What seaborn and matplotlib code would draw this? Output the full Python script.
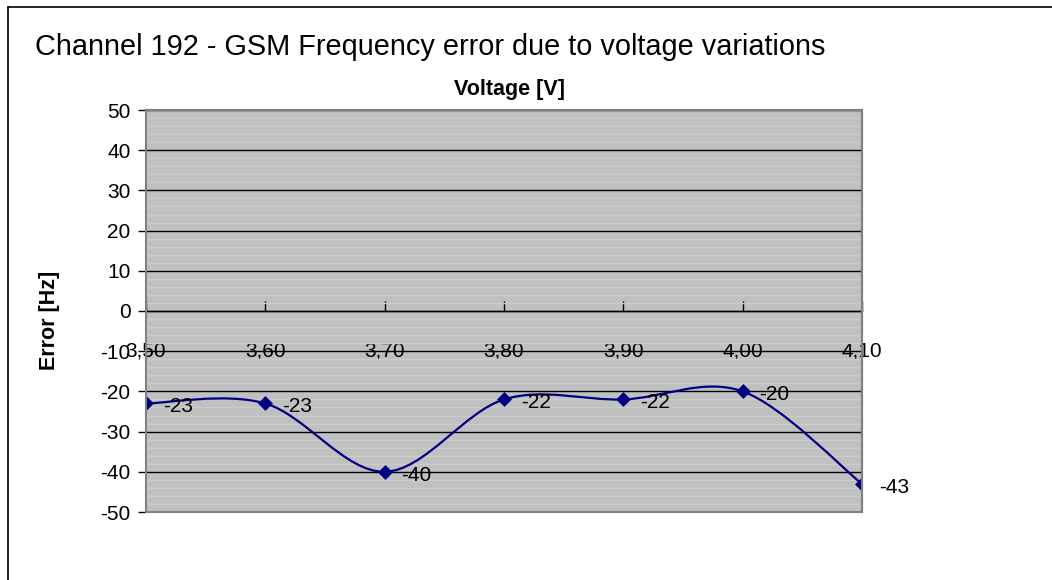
import matplotlib
matplotlib.use("Agg")
import matplotlib.pyplot as plt
import seaborn as sns
import numpy as np
import pandas as pd
from matplotlib.path import Path
from matplotlib.patches import PathPatch, Rectangle
from matplotlib.lines import Line2D
from matplotlib.ticker import MultipleLocator

# ---- data ----
voltage = [3.50, 3.60, 3.70, 3.80, 3.90, 4.00, 4.10]
error_hz = [-23, -23, -40, -22, -22, -20, -43]
x_tick_labels = ["3,50", "3,60", "3,70", "3,80", "3,90", "4,00", "4,10"]
y_ticks = [-50, -40, -30, -20, -10, 0, 10, 20, 30, 40, 50]

title = "Channel 192 - GSM Frequency error due to voltage variations"
x_label = "Voltage [V]"
y_label = "Error [Hz]"

df = pd.DataFrame({"Voltage": voltage, "Error": error_hz})

sns.set_theme(style="white")
plt.rcParams["font.family"] = ["Liberation Sans", "DejaVu Sans"]
plt.rcParams["text.color"] = "black"
plt.rcParams["axes.labelcolor"] = "black"
plt.rcParams["xtick.color"] = "black"
plt.rcParams["ytick.color"] = "black"

fig = plt.figure(figsize=(10.52, 5.80), dpi=100)
fig.patch.set_facecolor("white")
ax = fig.add_axes([146 / 1052, 1 - 512 / 580, (862 - 146) / 1052, (512 - 110) / 580])
ax.set_facecolor("#C0C0C0")

ax.set_xlim(3.5, 4.1)
ax.set_ylim(-50, 50)

# minor stripes and major gridlines
ax.yaxis.set_minor_locator(MultipleLocator(2))
ax.grid(which="minor", axis="y", color="#CBCBCB", linewidth=1.0)
ax.grid(which="major", axis="y", color="black", linewidth=1.0)
ax.grid(which="major", axis="x", visible=False)
ax.set_axisbelow(True)

# smoothed line (Bezier through the data points, Excel-like)
xs = np.array(voltage, dtype=float)
ys = np.array(error_hz, dtype=float)
pts = np.column_stack([xs, ys])
verts = [tuple(pts[0])]
codes = [Path.MOVETO]
n = len(pts)
for i in range(n - 1):
    p0 = pts[i - 1] if i > 0 else pts[i]
    p1 = pts[i]
    p2 = pts[i + 1]
    p3 = pts[i + 2] if i + 2 < n else pts[i + 1]
    c1 = p1 + (p2 - p0) / 6.0
    c2 = p2 - (p3 - p1) / 6.0
    verts += [tuple(c1), tuple(c2), tuple(p2)]
    codes += [Path.CURVE4, Path.CURVE4, Path.CURVE4]
ax.add_patch(PathPatch(Path(verts, codes), fill=False, edgecolor="#000080",
                       linewidth=1.6, transform=ax.transData, zorder=3))

sns.scatterplot(data=df, x="Voltage", y="Error", marker="D", s=50,
                color="#000080", edgecolor="#000080", linewidth=0.5, ax=ax, zorder=4)

for xv, yv in zip(voltage, error_hz):
    ax.annotate(f"{yv}", (xv, yv), xytext=(12, -1), textcoords="offset points",
                ha="left", va="center_baseline", fontsize=15, color="black", zorder=5,
                annotation_clip=False)

# axes styling
ax.spines["bottom"].set_position(("data", 0))
ax.spines["bottom"].set_color("black")
ax.spines["bottom"].set_linewidth(1.0)
ax.spines["left"].set_color("black")
ax.spines["left"].set_linewidth(1.2)
for s in ["top", "right"]:
    ax.spines[s].set_color("#808080")
    ax.spines[s].set_linewidth(1.5)
ax.add_patch(Rectangle((0, 0), 1, 1, transform=ax.transAxes, fill=False,
                       edgecolor="#808080", linewidth=1.5, zorder=6, clip_on=False))

ax.set_xticks(voltage)
ax.set_xticklabels(x_tick_labels)
ax.set_yticks(y_ticks)
ax.set_yticklabels([str(v) for v in y_ticks])
ax.tick_params(axis="x", which="major", direction="in", length=7, width=1,
               color="black", pad=22, labelsize=15, bottom=True)
ax.tick_params(axis="y", which="major", direction="out", length=6, width=1,
               color="black", pad=5, labelsize=15, left=True)
ax.tick_params(axis="y", which="minor", left=False)

ax.set_xlabel("")
ax.set_ylabel("")
fig.text(509 / 1052, 1 - 90 / 580, x_label, ha="center", va="center",
         fontsize=15.5, fontweight="bold")
fig.text(50 / 1052, 1 - 320 / 580, y_label, ha="center", va="center",
         rotation=90, fontsize=15.5, fontweight="bold")
fig.text(35 / 1052, 1 - 47 / 580, title, ha="left", va="center", fontsize=20.8)

# outer chart border (left and top visible)
fig.add_artist(Line2D([8 / 1052, 8 / 1052], [0, 1 - 7 / 580], transform=fig.transFigure,
                      color="black", linewidth=1.2))
fig.add_artist(Line2D([8 / 1052, 1], [1 - 7 / 580, 1 - 7 / 580], transform=fig.transFigure,
                      color="black", linewidth=1.2))

fig.savefig("out.png", dpi=100, facecolor="white")
